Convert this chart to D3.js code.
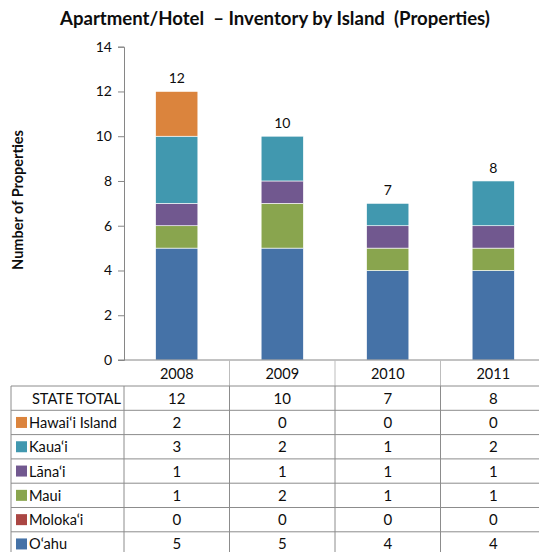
<!DOCTYPE html>
<html>
<head>
<meta charset="utf-8">
<script src="https://cdn.jsdelivr.net/npm/d3@7"></script>
<style>
  html, body { margin: 0; padding: 0; background: #fff; }
  svg { display: block; }
</style>
</head>
<body>
<svg id="chart" width="539" height="552"></svg>
<script>
// Apartment/Hotel inventory by island, 2008–2011
const years = ["2008", "2009", "2010", "2011"];
const islands = ["O‘ahu", "Moloka‘i", "Maui", "Lāna‘i", "Kaua‘i", "Hawai‘i Island"];
const oahu    = [5, 5, 4, 4];
const molokai = [0, 0, 0, 0];
const maui    = [1, 2, 1, 1];
const lanai   = [1, 1, 1, 1];
const kauai   = [3, 2, 1, 2];
const hawaii  = [2, 0, 0, 0];
const islandColors = ["#4572A7", "#AA4643", "#89A54E", "#71588F", "#4198AF", "#DB843D"];
const yTicks = [0, 2, 4, 6, 8, 10, 12, 14];

const seriesValues = [oahu, molokai, maui, lanai, kauai, hawaii];
const rows = years.map((yr, i) => {
  const r = { year: yr };
  islands.forEach((name, k) => { r[name] = seriesValues[k][i]; });
  return r;
});
const totals = years.map((_, i) => d3.sum(seriesValues, s => s[i]));

const svg = d3.select("#chart");
const font = "Lato, 'Open Sans', sans-serif";
const ink = "#0d0d0d";

const x = d3.scaleBand().domain(years).range([124, 546]).padding(0);
const y = d3.scaleLinear().domain([0, 14]).range([360, 46.7]);
const barW = x.bandwidth() * 0.4;

// Title
svg.append("text")
  .attr("x", 275).attr("y", 25)
  .attr("text-anchor", "middle")
  .attr("font-family", font).attr("font-weight", "bold").attr("font-size", 18.6)
  .attr("fill", ink)
  .attr("xml:space", "preserve")
  .text("Apartment/Hotel  – Inventory by Island  (Properties)");

// Y axis title
svg.append("text")
  .attr("transform", "translate(23,200) rotate(-90)")
  .attr("text-anchor", "middle")
  .attr("font-family", font).attr("font-weight", "bold").attr("font-size", 14.5)
  .attr("fill", ink)
  .text("Number of Properties");

// Y axis
const yAxis = svg.append("g")
  .attr("transform", "translate(124,0)")
  .call(d3.axisLeft(y).tickValues(yTicks).tickSize(6).tickPadding(6).tickFormat(d3.format("d")));
yAxis.select(".domain").attr("stroke", "#868686");
yAxis.selectAll(".tick line").attr("stroke", "#868686");
yAxis.selectAll(".tick text")
  .attr("font-family", font).attr("font-size", 14).attr("fill", ink);

// Stacked bars
const stack = d3.stack().keys(islands)(rows);
svg.append("g").selectAll("g")
  .data(stack)
  .join("g")
  .attr("fill", (d, i) => islandColors[i])
  .selectAll("rect")
  .data(d => d)
  .join("rect")
  .attr("x", d => x(d.data.year) + (x.bandwidth() - barW) / 2)
  .attr("width", barW)
  .attr("y", d => y(d[1]))
  .attr("height", d => y(d[0]) - y(d[1]))
  .attr("stroke", "#fff")
  .attr("stroke-width", 0.6);

// Totals above bars
svg.append("g").selectAll("text")
  .data(years)
  .join("text")
  .attr("x", d => x(d) + x.bandwidth() / 2)
  .attr("y", (d, i) => y(totals[i]) - 8)
  .attr("text-anchor", "middle")
  .attr("font-family", font).attr("font-size", 14).attr("fill", ink)
  .text((d, i) => totals[i]);

// Category axis line
svg.append("line")
  .attr("x1", 118).attr("x2", 539).attr("y1", 360).attr("y2", 360)
  .attr("stroke", "#868686");

// Header dividers between years
svg.append("g").selectAll("line")
  .data(years.slice(1))
  .join("line")
  .attr("x1", d => x(d)).attr("x2", d => x(d))
  .attr("y1", 360).attr("y2", 386)
  .attr("stroke", "#bdbdbd");

// Year labels
svg.append("g").selectAll("text")
  .data(years)
  .join("text")
  .attr("x", d => x(d) + x.bandwidth() / 2)
  .attr("y", 379)
  .attr("text-anchor", "middle")
  .attr("font-family", font).attr("font-size", 14.5).attr("fill", ink)
  .text(d => d);

// Data table
const tableTop = 386, rowH = 24.3, tableLeft = 11;
const tableRows = [{ label: "STATE TOTAL", values: totals, color: null }]
  .concat(islands.map((name, k) => ({ label: name, values: seriesValues[k], color: islandColors[k] })).reverse());

const tbl = svg.append("g");
// horizontal rules
tbl.selectAll("line.h")
  .data(d3.range(tableRows.length + 1))
  .join("line")
  .attr("class", "h")
  .attr("x1", tableLeft).attr("x2", 539)
  .attr("y1", i => tableTop + i * rowH).attr("y2", i => tableTop + i * rowH)
  .attr("stroke", "#8c8c8c");
// vertical rules
const vx = [tableLeft, 124].concat(years.slice(1).map(d => x(d)));
tbl.selectAll("line.v")
  .data(vx)
  .join("line")
  .attr("class", "v")
  .attr("x1", d => d).attr("x2", d => d)
  .attr("y1", tableTop).attr("y2", 552)
  .attr("stroke", "#8c8c8c");

const rowG = tbl.selectAll("g.row")
  .data(tableRows)
  .join("g")
  .attr("class", "row")
  .attr("transform", (d, i) => `translate(0,${tableTop + i * rowH})`);

rowG.filter(d => d.color)
  .append("rect")
  .attr("x", 16).attr("y", rowH / 2 - 5.5)
  .attr("width", 11).attr("height", 11)
  .attr("fill", d => d.color);

rowG.append("text")
  .attr("x", d => d.color ? 29 : 121)
  .attr("y", rowH / 2 + 5.5)
  .attr("text-anchor", d => d.color ? "start" : "end")
  .attr("font-family", font).attr("font-size", 14.6).attr("fill", ink)
  .text(d => d.label);

rowG.selectAll("text.val")
  .data(d => d.values.map((v, i) => ({ v, yr: years[i] })))
  .join("text")
  .attr("class", "val")
  .attr("x", d => x(d.yr) + x.bandwidth() / 2)
  .attr("y", rowH / 2 + 5.5)
  .attr("text-anchor", "middle")
  .attr("font-family", font).attr("font-size", 15).attr("fill", ink)
  .text(d => d.v);
</script>
</body>
</html>
